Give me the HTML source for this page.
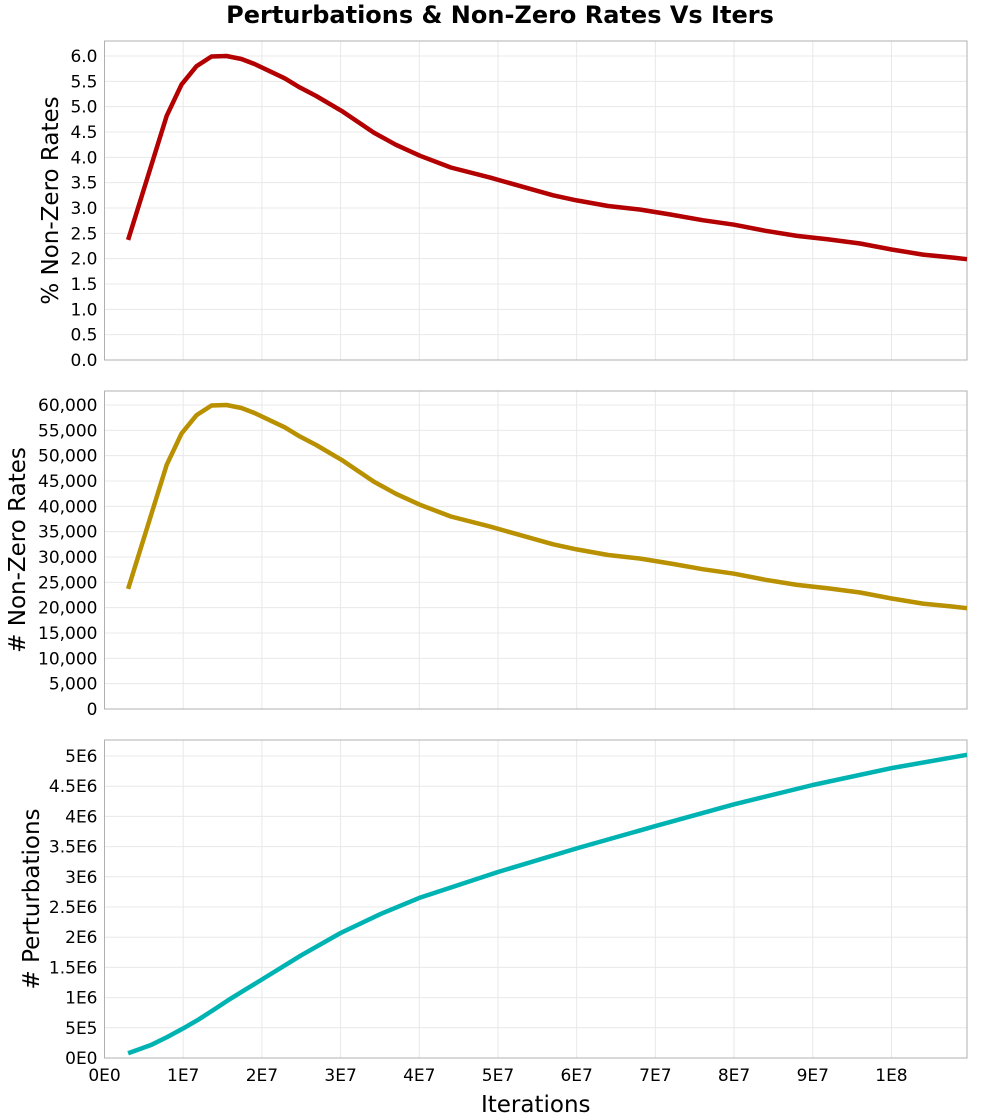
<!DOCTYPE html>
<html><head><meta charset="utf-8"><style>
body{margin:0;background:#fff}
svg{display:block;font-family:"DejaVu Sans","Liberation Sans",sans-serif}
</style></head><body>
<svg id="chart" width="1000" height="1120">
<text x="500" y="23" text-anchor="middle" font-size="24" font-weight="bold">Perturbations &amp; Non-Zero Rates Vs Iters</text>
</svg>
<script>
const iters = [3e6,7.9e6,9.8e6,11.7e6,13.6e6,15.5e6,17.4e6,19.1e6,22.9e6,24.8e6,26.9e6,30.3e6,34.2e6,37e6,40.1e6,44e6,49e6,54e6,57e6,60e6,64e6,68e6,72e6,76e6,80e6,84e6,88e6,92e6,96e6,100e6,104e6,108e6,109.6e6];
const pctRates = [2.37,4.82,5.44,5.80,5.99,6.0,5.94,5.84,5.56,5.38,5.21,4.90,4.49,4.25,4.03,3.80,3.60,3.38,3.25,3.15,3.04,2.97,2.87,2.76,2.67,2.55,2.45,2.38,2.30,2.18,2.08,2.02,1.99];
const numRates = [23700,48200,54400,58000,59900,60000,59400,58400,55600,53800,52100,49000,44900,42500,40300,38000,36000,33800,32500,31500,30400,29700,28700,27600,26700,25500,24500,23800,23000,21800,20800,20200,19900];
const pertIters = [3e6,6e6,8e6,10e6,12e6,14e6,16e6,18e6,20e6,25e6,30e6,35e6,40e6,50e6,60e6,70e6,80e6,90e6,100e6,109.6e6];
const perts = [0.08e6,0.22e6,0.35e6,0.49e6,0.64e6,0.81e6,0.98e6,1.14e6,1.3e6,1.7e6,2.07e6,2.38e6,2.65e6,3.08e6,3.47e6,3.84e6,4.2e6,4.52e6,4.8e6,5.02e6];
const xTicks = [0,1e7,2e7,3e7,4e7,5e7,6e7,7e7,8e7,9e7,1e8];
const xTickLabels = ["0E0","1E7","2E7","3E7","4E7","5E7","6E7","7E7","8E7","9E7","1E8"];
const pctTicks = [0,0.5,1,1.5,2,2.5,3,3.5,4,4.5,5,5.5,6];
const pctTickLabels = ["0.0","0.5","1.0","1.5","2.0","2.5","3.0","3.5","4.0","4.5","5.0","5.5","6.0"];
const numTicks = [0,5000,10000,15000,20000,25000,30000,35000,40000,45000,50000,55000,60000];
const numTickLabels = ["0","5,000","10,000","15,000","20,000","25,000","30,000","35,000","40,000","45,000","50,000","55,000","60,000"];
const pertTicks = [0,5e5,1e6,1.5e6,2e6,2.5e6,3e6,3.5e6,4e6,4.5e6,5e6];
const pertTickLabels = ["0E0","5E5","1E6","1.5E6","2E6","2.5E6","3E6","3.5E6","4E6","4.5E6","5E6"];

const NS="http://www.w3.org/2000/svg";
const svg=document.getElementById('chart');
const L=104.5,R=967,XMAX=1.096e8;
const xs=v=>L+(v/XMAX)*(R-L);
function mk(tag,attrs,parent){const e=document.createElementNS(NS,tag);for(const k in attrs)e.setAttribute(k,attrs[k]);(parent||svg).appendChild(e);return e;}
function panel(name,top,bot,ymax,ticks,labels,xv,yv,color,title,showX,titleX){
  const g=mk('g',{});
  
  
  const ys=v=>bot-(v/ymax)*(bot-top);
  xTicks.forEach(t=>{if(t>0){const l=mk('line',{x1:xs(t),x2:xs(t),y1:top,y2:bot,stroke:'#e8e8e8'},g);
    
    }});
  ticks.forEach((t,i)=>{const y=ys(t);
    if(t>0){const l=mk('line',{x1:L,x2:R,y1:y,y2:y,stroke:'#e8e8e8'},g);
      
      }
    const tx=mk('text',{x:L-7,y:y+6,'text-anchor':'end','font-size':17},g);
    tx.textContent=labels[i];
    
    });
  const fr=mk('rect',{x:L,y:top,width:R-L,height:bot-top,fill:'none',stroke:'#b0b0b0'},g);
  
  
  const d=xv.map((v,i)=>(i?'L':'M')+xs(v).toFixed(1)+','+ys(yv[i]).toFixed(1)).join('');
  const p=mk('path',{d:d,fill:'none',stroke:color,'stroke-width':4.5,'stroke-linejoin':'round'},g);
  
  
  const ty=(top+bot)/2;
  const yt=mk('text',{x:0,y:0,'text-anchor':'middle','font-size':23,transform:`translate(${titleX},${ty}) rotate(-90)`},g);
  yt.textContent=title;
  
  
  if(showX){xTicks.forEach((t,i)=>{const tx=mk('text',{x:xs(t),y:bot+23,'text-anchor':'middle','font-size':17},g);
    tx.textContent=xTickLabels[i];
    
    });
    const xt=mk('text',{x:(L+R)/2,y:bot+54,'text-anchor':'middle','font-size':23},g);
    xt.textContent='Iterations';
    
    }
}
panel('pct-rates',41,360,6.296,pctTicks,pctTickLabels,iters,pctRates,'#b30000','% Non-Zero Rates',false,58);
panel('num-rates',391,709,62763,numTicks,numTickLabels,iters,numRates,'#b89000','# Non-Zero Rates',false,25);
panel('perturbations',740,1058,5.265e6,pertTicks,pertTickLabels,pertIters,perts,'#00b3b3','# Perturbations',true,39);
</script>
</body></html>
